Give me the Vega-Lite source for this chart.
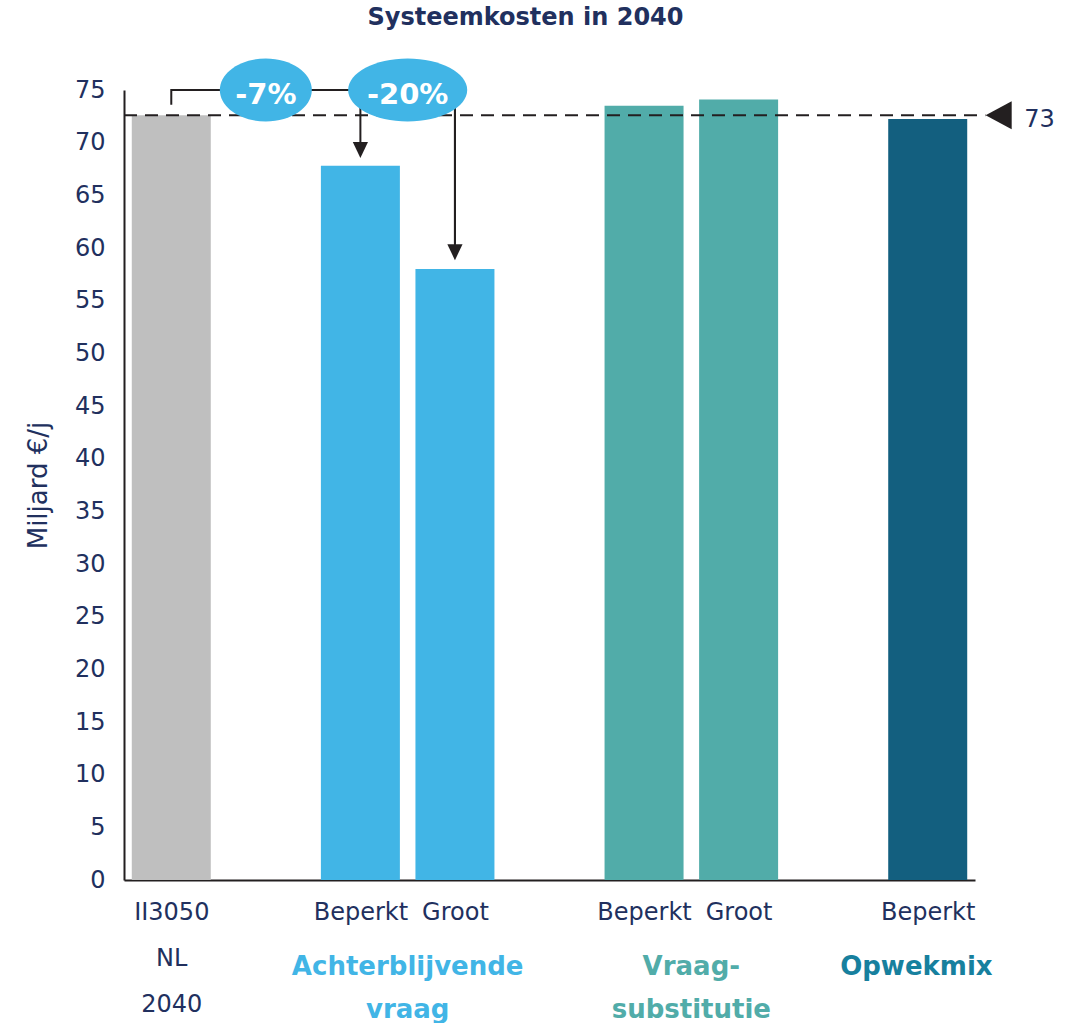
{
  "$schema": "https://vega.github.io/schema/vega-lite/v6.json",
  "autosize": {"type": "none"},
  "width": 851,
  "height": 790,
  "padding": {"left": 124, "top": 90, "right": 104, "bottom": 143},
  "background": "white",
  "config": {
    "view": {"stroke": null},
    "font": "DejaVu Sans"
  },
  "title": {
    "text": "Systeemkosten in 2040",
    "fontSize": 24,
    "fontWeight": "bold",
    "color": "#21305e",
    "font": "DejaVu Sans",
    "anchor": "middle",
    "frame": "group",
    "offset": 29,
    "dx": -24
  },
  "datasets": {
    "bars": [
      {"slot": 0, "label": "II3050 NL 2040", "group": "II3050 NL 2040", "value": 72.6},
      {"slot": 2, "label": "Beperkt", "group": "Achterblijvende vraag", "value": 67.8},
      {"slot": 3, "label": "Groot", "group": "Achterblijvende vraag", "value": 58.0},
      {"slot": 5, "label": "Beperkt", "group": "Vraag-substitutie", "value": 73.5},
      {"slot": 6, "label": "Groot", "group": "Vraag-substitutie", "value": 74.1},
      {"slot": 8, "label": "Beperkt", "group": "Opwekmix", "value": 72.25}
    ],
    "groups": [
      {"pos": 2.5, "text": "Achterblijvende\nvraag", "group": "Achterblijvende vraag"},
      {"pos": 5.5, "text": "Vraag-\nsubstitutie", "group": "Vraag-substitutie"},
      {"pos": 7.88, "text": "Opwekmix", "group": "Opwekmix"}
    ],
    "bracket": [
      {"x": 0, "y": 73.6, "o": 0},
      {"x": 0, "y": 75, "o": 1},
      {"x": 3, "y": 75, "o": 2},
      {"x": 3, "y": 60.4, "o": 3}
    ],
    "arrows": [
      {"x": 2, "ytop": 75, "ytip": 69.3},
      {"x": 3, "ytop": 75, "ytip": 59.6}
    ],
    "badges": [
      {"x": 1, "y": 75, "text": "-7%"},
      {"x": 2.5, "y": 75, "text": "-20%"}
    ],
    "ref": [
      {"value": 72.6, "text": "73"}
    ]
  },
  "layer": [
    {
      "data": {"name": "bars"},
      "mark": {"type": "bar", "size": 79},
      "encoding": {
        "x": {
          "field": "slot",
          "type": "quantitative",
          "scale": {"domain": [-0.5, 8.5], "nice": false, "zero": false, "padding": 0},
          "axis": {
            "values": [0, 2, 3, 5, 6, 8],
            "title": null,
            "grid": false,
            "ticks": false,
            "domainColor": "#231f20",
            "domainWidth": 2,
            "labelFontSize": 24,
            "labelColor": "#21305e",
            "labelFont": "DejaVu Sans",
            "labelPadding": 20,
            "labelLineHeight": 46,
            "labelOverlap": false,
            "labelFlush": false,
            "labelBound": false,
            "labelExpr": "datum.value == 0 ? ['II3050', 'NL', '2040'] : (datum.value == 3 || datum.value == 6) ? 'Groot' : 'Beperkt'"
          }
        },
        "y": {
          "field": "value",
          "type": "quantitative",
          "scale": {"domain": [0, 75], "nice": false},
          "axis": {
            "values": [0, 5, 10, 15, 20, 25, 30, 35, 40, 45, 50, 55, 60, 65, 70, 75],
            "title": "Miljard €/j",
            "titleFontSize": 26,
            "titleFontWeight": "normal",
            "titleColor": "#21305e",
            "titleFont": "DejaVu Sans",
            "titlePadding": 23,
            "grid": false,
            "ticks": false,
            "domainColor": "#231f20",
            "domainWidth": 2,
            "labelFontSize": 24,
            "labelColor": "#21305e",
            "labelFont": "DejaVu Sans",
            "labelPadding": 19,
            "labelFlush": false,
            "labelOverlap": false
          }
        },
        "color": {
          "field": "group",
          "type": "nominal",
          "scale": {
            "domain": ["II3050 NL 2040", "Achterblijvende vraag", "Vraag-substitutie", "Opwekmix"],
            "range": ["#bfbfbf", "#41b5e6", "#51aca9", "#135f7f"]
          },
          "legend": null
        }
      }
    },
    {
      "data": {"name": "ref"},
      "mark": {"type": "rule", "strokeDash": [13, 8], "strokeWidth": 2, "color": "#231f20"},
      "encoding": {
        "x": {"datum": -0.5, "type": "quantitative"},
        "x2": {"datum": 8.61},
        "y": {"field": "value", "type": "quantitative"}
      }
    },
    {
      "data": {"name": "ref"},
      "mark": {"type": "point", "filled": true, "color": "#231f20", "opacity": 1, "size": 784, "shape": "M0.93,-1 L0.93,1 L-0.93,0 Z"},
      "encoding": {
        "x": {"datum": 8.75, "type": "quantitative"},
        "y": {"field": "value", "type": "quantitative"}
      }
    },
    {
      "data": {"name": "ref"},
      "mark": {"type": "text", "align": "left", "baseline": "middle", "fontSize": 24, "color": "#21305e", "font": "DejaVu Sans", "dy": 5},
      "encoding": {
        "x": {"datum": 9.02, "type": "quantitative"},
        "y": {"field": "value", "type": "quantitative"},
        "text": {"field": "text"}
      }
    },
    {
      "data": {"name": "bracket"},
      "mark": {"type": "line", "color": "#231f20", "strokeWidth": 2, "interpolate": "linear"},
      "encoding": {
        "x": {"field": "x", "type": "quantitative"},
        "y": {"field": "y", "type": "quantitative"},
        "order": {"field": "o"}
      }
    },
    {
      "data": {"name": "arrows"},
      "mark": {"type": "rule", "color": "#231f20", "strokeWidth": 2},
      "encoding": {
        "x": {"field": "x", "type": "quantitative"},
        "y": {"field": "ytop", "type": "quantitative"},
        "y2": {"field": "ytip"}
      }
    },
    {
      "data": {"name": "arrows"},
      "mark": {"type": "point", "filled": true, "color": "#231f20", "opacity": 1, "size": 256, "shape": "M-0.95,-1 L0.95,-1 L0,1 Z"},
      "encoding": {
        "x": {"field": "x", "type": "quantitative"},
        "y": {"field": "ytip", "type": "quantitative"}
      }
    },
    {
      "data": {"name": "badges"},
      "mark": {"type": "point", "filled": true, "color": "#41b5e6", "opacity": 1, "strokeWidth": 0},
      "encoding": {
        "x": {"field": "x", "type": "quantitative"},
        "y": {"field": "y", "type": "quantitative"},
        "shape": {
          "field": "text",
          "type": "nominal",
          "scale": {
            "domain": ["-7%", "-20%"],
            "range": [
              "M-1.46,0 A1.46,1 0 1,0 1.46,0 A1.46,1 0 1,0 -1.46,0 Z",
              "M-1.89,0 A1.89,1 0 1,0 1.89,0 A1.89,1 0 1,0 -1.89,0 Z"
            ]
          },
          "legend": null
        },
        "size": {"value": 3969}
      }
    },
    {
      "data": {"name": "badges"},
      "mark": {"type": "text", "align": "center", "baseline": "middle", "fontSize": 29, "fontWeight": "bold", "color": "white", "font": "DejaVu Sans", "dy": 5},
      "encoding": {
        "x": {"field": "x", "type": "quantitative"},
        "y": {"field": "y", "type": "quantitative"},
        "text": {"field": "text"}
      }
    },
    {
      "data": {"name": "groups"},
      "mark": {"type": "text", "align": "center", "baseline": "alphabetic", "fontSize": 26, "fontWeight": "bold", "font": "DejaVu Sans", "lineBreak": "\n", "lineHeight": 43},
      "encoding": {
        "x": {"field": "pos", "type": "quantitative"},
        "y": {"datum": -9.0, "type": "quantitative"},
        "text": {"field": "text"},
        "color": {
          "field": "group",
          "type": "nominal",
          "scale": {
            "domain": ["Achterblijvende vraag", "Vraag-substitutie", "Opwekmix"],
            "range": ["#41b5e6", "#51aca9", "#17809e"]
          },
          "legend": null
        }
      }
    }
  ],
  "resolve": {"scale": {"color": "independent", "shape": "independent"}}
}
